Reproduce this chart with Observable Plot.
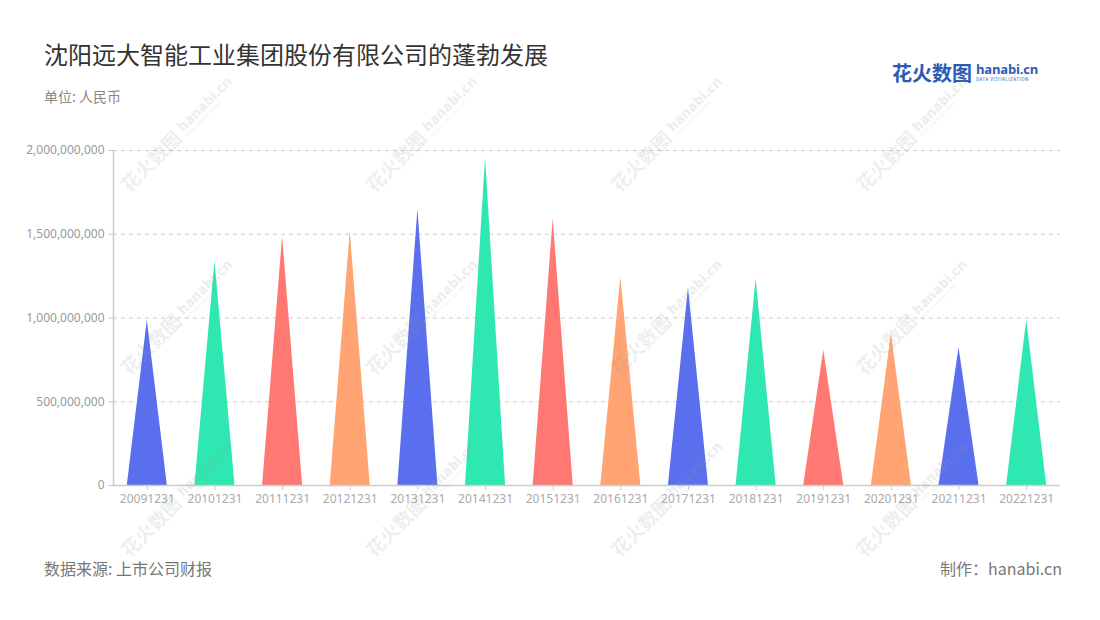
<!DOCTYPE html>
<html>
<head>
<meta charset="utf-8">
<script src="https://cdn.jsdelivr.net/npm/d3@7"></script>
<script src="https://cdn.jsdelivr.net/npm/@observablehq/plot@0.6"></script>
<style>
  html, body { margin: 0; padding: 0; background: #fff; }
  body { width: 1100px; height: 620px; position: relative; overflow: hidden;
         font-family: "Noto Sans CJK SC", "Noto Sans", sans-serif; }
  #title { position: absolute; left: 44px; top: 36px; font-size: 24px; color: #333; }
  #subtitle { position: absolute; left: 44px; top: 86px; font-size: 14px; color: #888; }
  #source { position: absolute; left: 44px; top: 556px; font-size: 16px; color: #777; }
  #maker { position: absolute; right: 38px; top: 556px; font-size: 16px; color: #777; }
  #chart { position: absolute; left: 0; top: 120px; }
  #logo { position: absolute; left: 892px; top: 58px; color: #2b5bb5; white-space: nowrap; }
  #logo .cn { font-size: 20px; font-weight: bold; vertical-align: top; }
  #logo .en { display: inline-block; margin-left: 4px; vertical-align: top; line-height: 1; }
  #logo .en b { font-family: "Open Sans", sans-serif; font-size: 13px; font-weight: 700; display: block; margin-top: 5px; letter-spacing: -0.2px; }
  #logo .en i { font-style: normal; font-size: 4.5px; letter-spacing: 0.5px; display: block; margin-top: 1px; }
  .wm { position: absolute; transform: rotate(-45deg); transform-origin: left bottom;
        color: rgba(150,150,150,0.17); white-space: nowrap; pointer-events: none; font-weight: bold; line-height: 1; }
  .wm .a { font-size: 19px; vertical-align: bottom; }
  .wm .b { display: inline-block; margin-left: 5px; vertical-align: bottom; }
  .wm .b b { font-family: "Open Sans", sans-serif; font-size: 14px; display: block; }
  .wm .b i { font-style: normal; font-size: 4px; display: block; letter-spacing: 0.4px; }
</style>
</head>
<body>
<div id="title">沈阳远大智能工业集团股份有限公司的蓬勃发展</div>
<div id="subtitle">单位: 人民币</div>
<div id="logo"><span class="cn">花火数图</span><span class="en"><b>hanabi.cn</b><i>DATA VISUALIZATION</i></span></div>
<div id="chart"></div>
<div id="source">数据来源: 上市公司财报</div>
<div id="maker">制作：hanabi.cn</div>
<div id="wms"></div>
<script>
const categories = ["20091231","20101231","20111231","20121231","20131231","20141231","20151231",
                    "20161231","20171231","20181231","20191231","20201231","20211231","20221231"];
const values = [987000000, 1340000000, 1485000000, 1515000000, 1649000000, 1957000000, 1593000000,
                1244000000, 1181000000, 1234000000, 808000000, 908000000, 822000000, 987000000];
const palette = ["#5A6FEE", "#2FE8B1", "#FF7871", "#FFA472"];
const yTicks = [0, 500000000, 1000000000, 1500000000, 2000000000];

const half = 0.296;
const tri = [];
categories.forEach((c, i) => {
  const col = palette[i % palette.length];
  tri.push({i, x: i - half, y: 0, col});
  tri.push({i, x: i, y: values[i], col});
  tri.push({i, x: i + half, y: 0, col});
});

const chart = Plot.plot({
  width: 1100,
  height: 400,
  marginTop: 30,
  marginBottom: 35,
  marginLeft: 113,
  marginRight: 40,
  style: { fontFamily: "'Noto Sans', 'Noto Sans CJK SC', sans-serif", fontSize: "12px", color: "#999" },
  x: { domain: [-0.5, categories.length - 0.5] },
  y: { domain: [0, 2000000000] },
  marks: [
    Plot.gridY(yTicks.slice(1), { stroke: "#ccc", strokeOpacity: 1, strokeDasharray: "4,4" }),
    Plot.areaY(tri, { x: "x", y: "y", z: "i", fill: "col", curve: "linear" }),
    Plot.axisY(yTicks, { tickFormat: d3.format(","), tickSize: 5, tickPadding: 4, stroke: "#ccc", fill: "#999", label: null }),
    Plot.ruleX([-0.5], { stroke: "#ccc", strokeWidth: 1.5 }),
    Plot.ruleY([0], { stroke: "#ccc", strokeWidth: 1.5 }),
    Plot.axisX(d3.range(categories.length), { tickFormat: i => categories[i], tickSize: 5, tickPadding: 4, stroke: "#ccc", fill: "#aaa", label: null })
  ]
});
document.getElementById("chart").appendChild(chart);

// watermarks
const wms = document.getElementById("wms");
const xs = [130, 375, 620, 865];
const ys = [195, 378, 560];
for (const x of xs) for (const y of ys) {
  const d = document.createElement("div");
  d.className = "wm";
  d.style.left = x + "px";
  d.style.top = (y - 20) + "px";
  d.innerHTML = '<span class="a">花火数图</span><span class="b"><b>hanabi.cn</b><i>DATA VISUALIZATION</i></span>';
  wms.appendChild(d);
}
</script>
</body>
</html>
